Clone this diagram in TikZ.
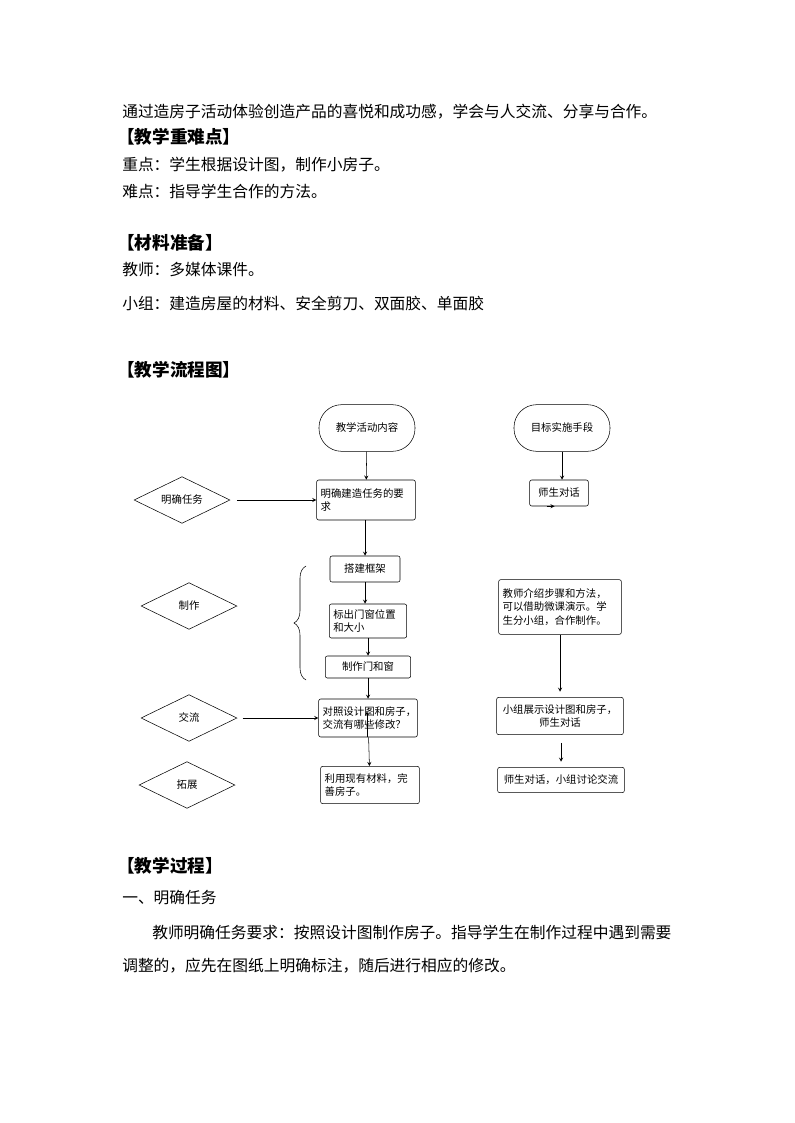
\documentclass[tikz,border=0pt]{standalone}
\usepackage{fontspec}
\setmainfont{Noto Sans CJK SC}
\usetikzlibrary{shapes.geometric,decorations.pathreplacing}

\tikzset{
  body/.style={anchor=west,inner sep=0pt,font=\fontsize{11.8pt}{14pt}\selectfont},
  head/.style={anchor=west,inner sep=0pt,font=\fontsize{13.2pt}{15pt}\selectfont\bfseries},
  term/.style={draw,rounded corners=17pt,minimum width=72pt,minimum height=35pt,font=\fontsize{7.8pt}{10pt}\selectfont},
  box/.style={draw,rounded corners=1.5pt,align=left,inner sep=3pt,font=\fontsize{7.8pt}{10pt}\selectfont},
  dia/.style={draw,diamond,aspect=2,minimum width=72pt,minimum height=35pt,inner sep=0pt,font=\fontsize{7.8pt}{10pt}\selectfont},
  arr/.style={->,>=stealth}
}

\begin{document}
\begin{tikzpicture}[x=0.75pt,y=-0.75pt]
  \useasboundingbox (0,0) rectangle (794,1123);
  % page text
  \node[body] (t1) at (122,112) {通过造房子活动体验创造产品的喜悦和成功感，学会与人交流、分享与合作。};
  \node[head] (h1) at (117,137) {【教学重难点】};
  \node[body] (t2) at (122,165) {重点：学生根据设计图，制作小房子。};
  \node[body] (t3) at (122,191) {难点：指导学生合作的方法。};
  \node[head] (h2) at (117,243) {【材料准备】};
  \node[body] (t4) at (122,270) {教师：多媒体课件。};
  \node[body] (t5) at (122,303) {小组：建造房屋的材料、安全剪刀、双面胶、单面胶};
  \node[head] (h3) at (117,370) {【教学流程图】};
  \node[head] (h4) at (117,866) {【教学过程】};
  \node[body] (t6) at (122,898) {一、明确任务};
  \node[body] (t7) at (152,932) {教师明确任务要求：按照设计图制作房子。指导学生在制作过程中遇到需要};
  \node[body] (t8) at (122,966) {调整的，应先在图纸上明确标注，随后进行相应的修改。};

  % flow chart, left column
  \node[term] (act) at (367,428) {教学活动内容};
  \node[box,text width=68pt,minimum height=30pt] (req) at (366,500) {明确建造任务的要\\求};
  \node[box,minimum width=52.5pt,minimum height=19.5pt,align=center] (frame) at (365,569) {搭建框架};
  \node[box,text width=52pt,minimum height=25.5pt] (mark) at (368,621) {标出门窗位置\\和大小};
  \node[box,minimum width=64pt,minimum height=16.5pt,align=center] (make) at (368,667) {制作门和窗};
  \node[box,text width=68pt,minimum height=28.5pt] (cmp) at (368,718) {对照设计图和房子，\\交流有哪些修改？};
  \node[box,text width=68pt,minimum height=28pt] (use) at (370,785) {利用现有材料，完\\善房子。};

  \node[dia] (d1) at (182,500) {明确任务};
  \node[dia] (d2) at (189,606) {制作};
  \node[dia] (d3) at (189,718) {交流};
  \node[dia] (d4) at (187,785) {拓展};

  % right column
  \node[term] (goal) at (562,428) {目标实施手段};
  \node[box,minimum width=44pt,minimum height=19.5pt,align=center] (talk) at (559,493) {师生对话};
  \node[box,text width=86pt,minimum height=41pt] (intro) at (560,607) {教师介绍步骤和方法，\\可以借助微课演示。学\\生分小组，合作制作。};
  \node[box,text width=89pt,minimum height=28pt,align=center] (show) at (560,716) {小组展示设计图和房子，\\师生对话};
  \node[box,minimum width=95pt,minimum height=19pt,align=center] (disc) at (561,780) {师生对话，小组讨论交流};

  \coordinate (brTop) at (306,566);
  \coordinate (brBot) at (306,680);

  \draw[arr] (act) -- (req);
  \draw[arr] (req.south -| frame.north) -- (frame);
  \draw[arr] (frame) -- (frame.south |- mark.north);
  \draw[arr] (mark) -- (make);
  \draw[arr] (make) -- (make.south |- cmp.north);
  \draw[arr] (cmp.south) ++(-1,0) -- ++(0,-26) ;
  \draw[arr] (cmp) -- (use);
  \draw[arr, shorten <=5pt] (d1) -- (req);
  \draw[arr, shorten <=4pt] (d3) -- (cmp);
  \draw[decorate,decoration={brace,amplitude=9pt}] (brBot) -- (brTop);

  \draw[arr] (goal) -- (goal |- talk.north);
  \draw[arr, shorten <=10pt, shorten >=4pt] (talk) -- (talk.south -| intro.north);
  \draw[arr, shorten >=4pt] (intro) -- (show);
  \draw[arr, shorten <=6pt, shorten >=4pt] (show.south -| disc.north) -- (disc);
\end{tikzpicture}
\end{document}
